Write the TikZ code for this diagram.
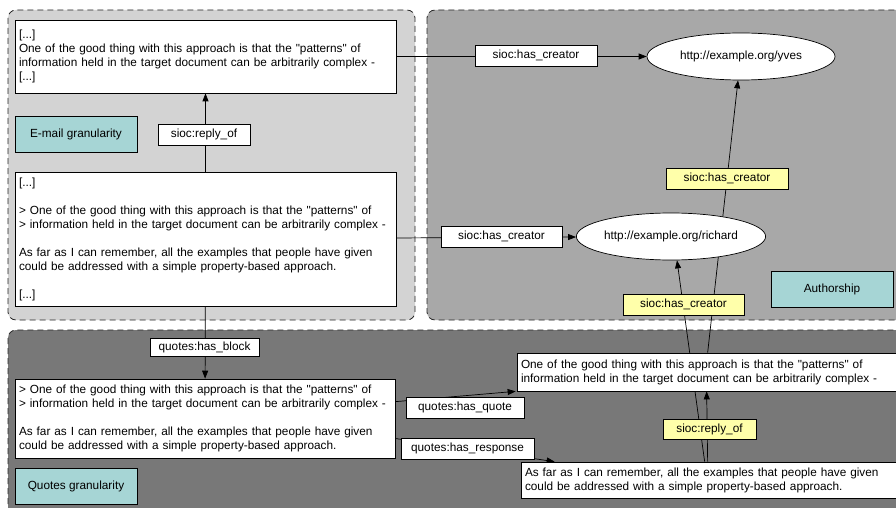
\documentclass[tikz,border=0pt]{standalone}
\usepackage{fontspec}
\setmainfont{Liberation Sans}[Ligatures=TeXOff]
\usetikzlibrary{shapes.geometric,arrows.meta}
\definecolor{grplight}{RGB}{211,211,211}
\definecolor{grpmid}{RGB}{168,168,168}
\definecolor{grpdark}{RGB}{120,120,120}
\definecolor{tagteal}{RGB}{166,213,213}
\definecolor{relyellow}{RGB}{255,255,170}
\pgfdeclarelayer{groups}
\pgfdeclarelayer{links}
\pgfsetlayers{groups,links,main}

\begin{document}
\begin{tikzpicture}[x=1pt,y=-1pt,font=\fontsize{11.8}{14}\selectfont,
    grp/.style={draw=black!85,dash pattern=on 6pt off 4pt,rounded corners=8pt,line width=0.8pt},
    txtbox/.style={draw,fill=white,inner xsep=4pt,inner ysep=0pt,align=left,line width=0.7pt},
    rel/.style={draw,fill=white,minimum height=21pt,inner sep=0pt,line width=0.7pt},
    yrel/.style={rel,fill=relyellow},
    uri/.style={draw,fill=white,ellipse,inner sep=0pt,minimum width=188pt,minimum height=47pt,line width=0.7pt},
    tag/.style={draw,fill=tagteal,minimum width=122pt,minimum height=36pt,inner sep=0pt,line width=0.7pt},
    arr/.style={-{Triangle[length=8pt,width=6pt]},line width=0.7pt}]
            \useasboundingbox (0,0) rectangle (896,508);
            % granularity areas
            \begin{pgfonlayer}{groups}
            \filldraw[grp,fill=grplight] (8,10) rectangle (415,320);
            \filldraw[grp,fill=grpmid] (427,10) rectangle (910,320);
            \filldraw[grp,fill=grpdark] (8,330) rectangle (910,520);
            \end{pgfonlayer}
            % e-mails
            \node[txtbox,text width=373pt,minimum height=73pt] (email1) at (205.5,56.5)
                {[...]\\One of the good thing with this approach is that the "patterns" of\\information held in the target document can be arbitrarily complex -\\ \relax[...]};
            \node[txtbox,text width=373pt,minimum height=134pt] (email2) at (205.5,239)
                {[...]\\[14pt]> One of the good thing with this approach is that the "patterns" of\\> information held in the target document can be arbitrarily complex -\\[14pt]As far as I can remember, all the examples that people have given\\could be addressed with a simple property-based approach.\\[14pt]\relax[...]};
            % quotes
            \node[txtbox,text width=372pt,minimum height=79pt] (block) at (205,418.5)
                {> One of the good thing with this approach is that the "patterns" of\\> information held in the target document can be arbitrarily complex -\\[14pt]As far as I can remember, all the examples that people have given\\could be addressed with a simple property-based approach.};
            \node[txtbox,text width=380pt,minimum height=38pt] (quote) at (711,372)
                {One of the good thing with this approach is that the "patterns" of\\information held in the target document can be arbitrarily complex -};
            \node[txtbox,text width=376pt,minimum height=36pt] (resp) at (713,480)
                {As far as I can remember, all the examples that people have given\\could be addressed with a simple property-based approach.};
            % people
            \node[uri] (yves) at (741,56.5) {http://example.org/yves};
            \node[uri] (richard) at (671,236.5) {http://example.org/richard};
            % area labels
            \node[tag] (emailgr) at (76,134) {E-mail granularity};
            \node[tag] (authgr) at (832,289) {Authorship};
            \node[tag] (quotegr) at (76,486) {Quotes granularity};
            % properties
            \node[rel,minimum width=92pt] (replyof) at (204,134.5) {sioc:reply\_of};
            \node[rel,minimum width=122pt] (creator1) at (536,55.5) {sioc:has\_creator};
            \node[rel,minimum width=121pt] (creator2) at (501.5,236.5) {sioc:has\_creator};
            \node[yrel,minimum width=122pt] (creator3) at (727,178.5) {sioc:has\_creator};
            \node[yrel,minimum width=121pt] (creator4) at (683.5,304.5) {sioc:has\_creator};
            \node[rel,minimum width=109pt,minimum height=18pt] (hasblock) at (204.5,347) {quotes:has\_block};
            \node[rel,minimum width=118pt] (hasquote) at (465,407.5) {quotes:has\_quote};
            \node[rel,minimum width=133pt] (hasresp) at (467.5,448.5) {quotes:has\_response};
            \node[yrel,minimum width=93pt,minimum height=20pt] (replyof2) at (709.5,429) {sioc:reply\_of};
            % links
            \begin{pgfonlayer}{links}
            \draw[arr] (email2) -- (email1);
            \draw[arr] (email1) -- (yves);
            \draw[arr] (email2) -- (richard);
            \draw[arr] (email2) -- (block);
            \draw[arr] ([yshift=-23pt]block.north east) -- ([xshift=-1pt]quote.south west);
            \draw[arr] ([yshift=-20pt]block.east) -- ([xshift=34pt]resp.north west);
            \draw[arr] ([xshift=184pt]resp.north west) -- ([xshift=6pt]richard.south);
            \draw[arr] ([xshift=191pt]quote.north west) -- ([xshift=-3pt]yves.south);
            \draw[arr] ([xshift=187pt]resp.north west) -- ([xshift=190pt]quote.south west);
            \end{pgfonlayer}
        \end{tikzpicture}
\end{document}
